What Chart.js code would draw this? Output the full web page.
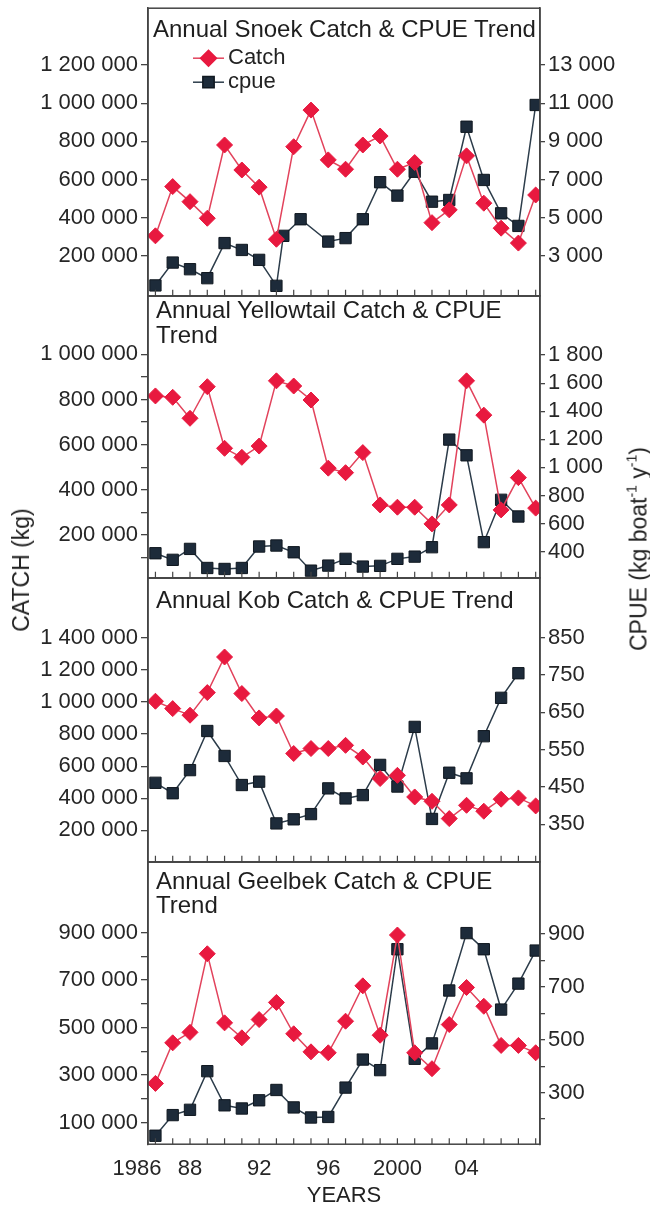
<!DOCTYPE html>
<html>
<head>
<meta charset="utf-8">
<script src="https://cdn.jsdelivr.net/npm/chart.js@4.4.0/dist/chart.umd.min.js"></script>
<style>
  body { margin: 0; background: #fff; width: 650px; height: 1209px; position: relative; overflow: hidden;
         font-family: "Liberation Sans", Arial, sans-serif; color: #222; }
  .box { position: absolute; left: 0; width: 650px; }
  .ttl { position: absolute; font-size: 24px; line-height: 25px; color: #1e1e1e; white-space: nowrap; z-index: 2; }
  .ax { position: absolute; font-size: 23px; line-height: 26px; white-space: nowrap; color: #222; z-index: 2;
        transform: translate(-50%, -50%) rotate(-90deg); }
  .sp { font-size: 14px; position: relative; top: -10px; }
</style>
</head>
<body>
<div class="box" style="top:-8px;height:320px"><canvas id="c0"></canvas></div>
<div class="box" style="top:280px;height:314px"><canvas id="c1"></canvas></div>
<div class="box" style="top:562px;height:316px"><canvas id="c2"></canvas></div>
<div class="box" style="top:846px;height:363px"><canvas id="c3"></canvas></div>

<div class="ttl" style="left:153px;top:16px">Annual Snoek Catch &amp; CPUE Trend</div>
<div class="ttl" style="left:156px;top:297px">Annual Yellowtail Catch &amp; CPUE<br>Trend</div>
<div class="ttl" style="left:156px;top:587px">Annual Kob Catch &amp; CPUE Trend</div>
<div class="ttl" style="left:156px;top:869px;line-height:24px">Annual Geelbek Catch &amp; CPUE<br>Trend</div>

<div class="ax" style="left:21px;top:570px">CATCH (kg)</div>
<div class="ax" style="left:640px;top:549px">CPUE (kg boat<span class="sp">-1</span> y<span class="sp">-1</span>)</div>

<script>
// years on the x axis
const years = [1986, 1987, 1988, 1989, 1990, 1991, 1992, 1993, 1994, 1995, 1996, 1997,
               1998, 1999, 2000, 2001, 2002, 2003, 2004, 2005, 2006, 2007, 2008];
const xTicks = [1986, 1988, 1992, 1996, 2000, 2004];
const xTickLabels = ['1986      ', '88', '92', '96', '2000', '04'];

// Snoek
const snoekCatch = [305000, 563000, 484000, 397000, 781000, 650000, 560000, 287000, 772000, 964000, 703000, 654000,
                    781000, 828000, 654000, 689000, 374000, 441000, 724000, 476000, 345000, 267000, 519000];
const snoekCpueYears = [1986, 1987, 1988, 1989, 1990, 1991, 1992, 1993, 1993.4, 1994.4, 1996, 1997,
                        1998, 1999, 2000, 2001, 2002, 2003, 2004, 2005, 2006, 2007, 2008];
const snoekCpue = [1450, 2650, 2300, 1830, 3670, 3310, 2790, 1430, 4050, 4920, 3750, 3930,
                   4920, 6860, 6160, 7410, 5840, 5930, 9770, 6980, 5230, 4570, 10910];

// Yellowtail
const yellowtailCatch = [816000, 810000, 717000, 857000, 584000, 544000, 594000, 883000, 860000, 798000, 496000, 476000,
                         565000, 333000, 323000, 323000, 249000, 333000, 883000, 731000, 311000, 454000, 319000];
const yellowtailCpue = [388, 341, 419, 283, 276, 283, 436, 443, 395, 264, 300, 348,
                        293, 298, 348, 364, 431, 1198, 1086, 467, 769, 650];

// Kob
const kobCatch = [1005000, 959000, 918000, 1059000, 1281000, 1053000, 901000, 913000, 679000, 710000, 710000, 730000,
                  657000, 523000, 543000, 408000, 381000, 273000, 356000, 319000, 394000, 402000, 352000];
const kobCpue = [461, 433, 495, 600, 533, 455, 464, 352, 363, 377, 446, 419,
                 428, 509, 451, 611, 364, 488, 473, 586, 689, 755];

// Geelbek
const geelbekCatch = [265000, 436000, 480000, 811000, 520000, 457000, 534000, 606000, 474000, 398000, 394000, 527000,
                      676000, 468000, 890000, 394000, 327000, 513000, 669000, 590000, 425000, 425000, 394000];
const geelbekCpue = [137, 215, 235, 381, 252, 240, 271, 310, 244, 206, 208, 319,
                     425, 385, 842, 428, 486, 686, 903, 842, 614, 712, 837];

// tick values (labelled + unlabelled minor ones)
const snoekCatchTicks = [200000, 400000, 600000, 800000, 1000000, 1200000];
const snoekCpueTicks = [3000, 5000, 7000, 9000, 11000, 13000];
const yellowtailCatchTicks = [200000, 400000, 600000, 800000, 1000000];
const yellowtailCatchMinor = [100000, 300000, 500000, 700000, 900000];
const yellowtailCpueTicks = [400, 600, 800, 1000, 1200, 1400, 1600, 1800];
const kobCatchTicks = [200000, 400000, 600000, 800000, 1000000, 1200000, 1400000];
const kobCpueTicks = [350, 450, 550, 650, 750, 850];
const geelbekCatchTicks = [100000, 300000, 500000, 700000, 900000];
const geelbekCatchMinor = [200000, 400000, 600000, 800000];
const geelbekCpueTicks = [300, 500, 700, 900];
const geelbekCpueMinor = [200, 400, 600, 800];

const RED = '#e8193f';
const RED_LINE = '#e2435c';
const DARK = '#1d2b3a';
const DARK_LINE = '#2c3c4a';
const AXIS = '#444';
const FONT = { family: '"Liberation Sans", Arial, sans-serif', size: 22 };

const fmt = v => String(v).replace(/\B(?=(\d{3})+(?!\d))/g, ' ');

// frame of each panel + small year ticks along the bottom edge
const panelFrame = {
    id: 'panelFrame',
    afterDatasetsDraw(chart) {
        const { ctx, chartArea: a, scales } = chart;
        ctx.save();
        ctx.strokeStyle = AXIS;
        ctx.lineWidth = 1.5;
        ctx.strokeRect(a.left, a.top, a.right - a.left, a.bottom - a.top);
        ctx.lineWidth = 1.2;
        ctx.beginPath();
        years.forEach(y => {
            const px = scales.x.getPixelForValue(y);
            ctx.moveTo(px, a.bottom);
            ctx.lineTo(px, a.bottom - 6);
        });
        ctx.stroke();
        ctx.restore();
    }
};

// legend drawn inside the first panel
const innerLegend = {
    id: 'innerLegend',
    afterDraw(chart) {
        const { ctx, chartArea: a } = chart;
        const x0 = a.left + 45, x1 = a.left + 76, tx = a.left + 80;
        ctx.save();
        chart.data.datasets.forEach((ds, i) => {
            const y = a.top + 50 + i * 24;
            ctx.strokeStyle = ds.borderColor;
            ctx.lineWidth = 1.5;
            ctx.beginPath();
            ctx.moveTo(x0, y);
            ctx.lineTo(x1, y);
            ctx.stroke();
            ctx.fillStyle = ds.pointBackgroundColor;
            ctx.strokeStyle = ds.pointBorderColor;
            Chart.helpers.drawPoint(ctx, { pointStyle: ds.pointStyle, radius: ds.pointRadius, borderWidth: 1, rotation: 0 },
                (x0 + x1) / 2, y);
            ctx.fillStyle = '#222';
            ctx.font = '22px "Liberation Sans", Arial, sans-serif';
            ctx.textBaseline = 'middle';
            ctx.fillText(ds.label, tx, y);
        });
        ctx.restore();
    }
};

function yAxis(position, min, max, major, minor, width) {
    const all = major.concat(minor || []).sort((a, b) => a - b);
    return {
        type: 'linear',
        position: position,
        min: min,
        max: max,
        afterBuildTicks: s => { s.ticks = all.map(v => ({ value: v })); },
        afterFit: s => { s.width = width; },
        ticks: {
            font: FONT,
            color: '#262626',
            padding: 3,
            autoSkip: false,
            callback: v => major.includes(v) ? fmt(v) : ''
        },
        grid: { drawOnChartArea: false, drawTicks: true, tickLength: position === 'left' ? 7 : 5, tickColor: AXIS, lineWidth: 1.3 },
        border: { display: true, color: AXIS, width: 1.5 }
    };
}

function makePanel(id, p) {
    const last = p.last === true;
    return new Chart(document.getElementById(id), {
        type: 'line',
        data: {
            datasets: [
                {
                    label: 'Catch',
                    data: p.catchVals.map((v, k) => ({ x: years[k], y: v })),
                    yAxisID: 'yL',
                    borderColor: RED_LINE,
                    borderWidth: 1.5,
                    pointStyle: 'rectRot',
                    pointRadius: 8,
                    pointBackgroundColor: RED,
                    pointBorderColor: RED,
                    pointBorderWidth: 1,
                    tension: 0
                },
                {
                    label: 'cpue',
                    data: p.cpueVals.map((v, k) => ({ x: p.cpueYears[k], y: v })),
                    yAxisID: 'yR',
                    borderColor: DARK_LINE,
                    borderWidth: 1.5,
                    pointStyle: 'rect',
                    pointRadius: 8,
                    pointBackgroundColor: DARK,
                    pointBorderColor: '#101820',
                    pointBorderWidth: 1,
                    tension: 0
                }
            ]
        },
        options: {
            responsive: true,
            maintainAspectRatio: false,
            animation: false,
            layout: { padding: { top: 16, bottom: last ? 0 : 16, left: 0, right: 0 } },
            plugins: { legend: { display: false }, tooltip: { enabled: false } },
            scales: {
                x: {
                    type: 'linear',
                    min: 1985.57,
                    max: 2008.25,
                    display: last,
                    afterBuildTicks: s => { s.ticks = xTicks.map(v => ({ value: v })); },
                    ticks: {
                        font: FONT,
                        color: '#262626',
                        padding: 12,
                        autoSkip: false,
                        maxRotation: 0,
                        callback: v => xTickLabels[xTicks.indexOf(v)]
                    },
                    grid: { display: false, drawTicks: false },
                    border: { display: false },
                    title: { display: true, text: 'YEARS', font: FONT, color: '#222', padding: { top: -12, bottom: 0 } }
                },
                yL: yAxis('left', p.lMin, p.lMax, p.lTicks, p.lMinor, 148),
                yR: yAxis('right', p.rMin, p.rMax, p.rTicks, p.rMinor, 110)
            }
        },
        plugins: p.legend ? [panelFrame, innerLegend] : [panelFrame]
    });
}

makePanel('c0', {
    catchVals: snoekCatch, cpueVals: snoekCpue, cpueYears: snoekCpueYears,
    lMin: -9400, lMax: 1498000, lTicks: snoekCatchTicks,
    rMin: 906, rMax: 15984, rTicks: snoekCpueTicks, legend: true
});
makePanel('c1', {
    catchVals: yellowtailCatch, cpueVals: yellowtailCpue, cpueYears: years,
    lMin: 10200, lMax: 1258000, lTicks: yellowtailCatchTicks, lMinor: yellowtailCatchMinor,
    rMin: 213, rMax: 2220, rTicks: yellowtailCpueTicks
});
makePanel('c2', {
    catchVals: kobCatch, cpueVals: kobCpue, cpueYears: years,
    lMin: 3600, lMax: 1772500, lTicks: kobCatchTicks,
    rMin: 249, rMax: 1010, rTicks: kobCpueTicks
});
makePanel('c3', {
    catchVals: geelbekCatch, cpueVals: geelbekCpue, cpueYears: years,
    lMin: 9000, lMax: 1196700, lTicks: geelbekCatchTicks, lMinor: geelbekCatchMinor,
    rMin: 105, rMax: 1171, rTicks: geelbekCpueTicks, rMinor: geelbekCpueMinor, last: true
});
</script>
</body>
</html>
